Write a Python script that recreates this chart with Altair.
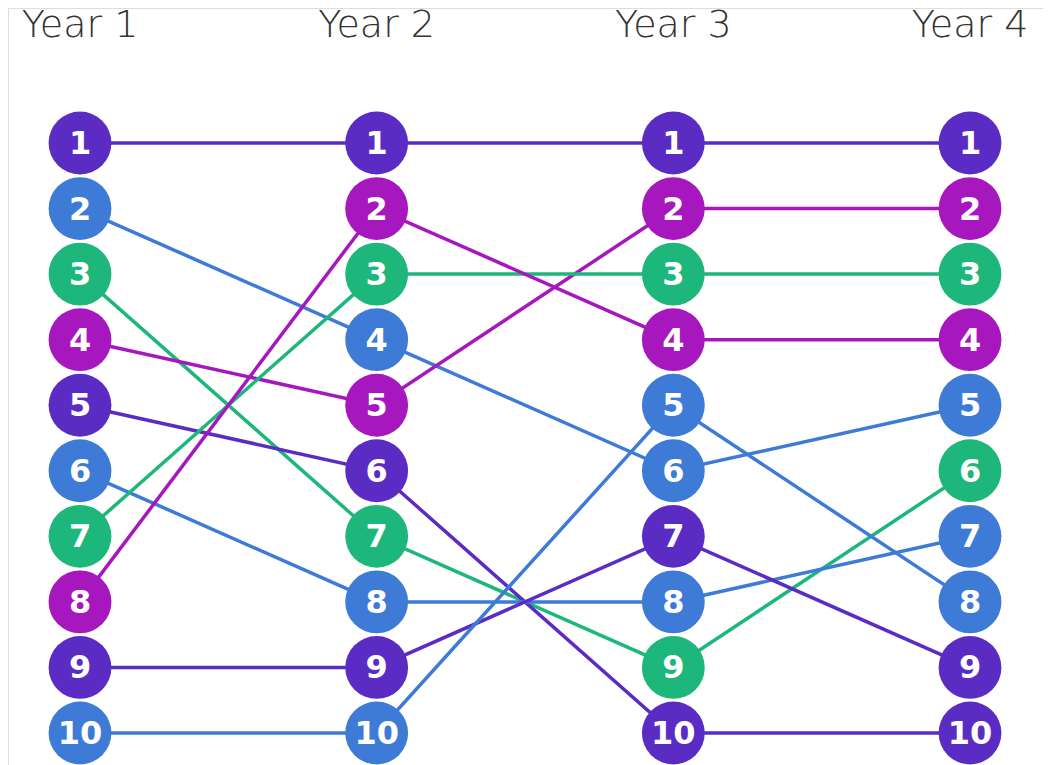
import altair as alt
import pandas as pd

years = [1, 2, 3, 4]
year_labels = ["Year 1", "Year 2", "Year 3", "Year 4"]
items = ["A", "B", "C", "D", "E", "F", "G", "H", "I", "J"]
groups = ["purple", "blue", "green", "magenta", "purple",
          "blue", "green", "magenta", "purple", "blue"]
rank_y1 = [1, 2, 3, 4, 5, 6, 7, 8, 9, 10]
rank_y2 = [1, 4, 7, 5, 6, 8, 3, 2, 9, 10]
rank_y3 = [1, 6, 9, 2, 10, 8, 3, 4, 7, 5]
rank_y4 = [1, 5, 6, 2, 10, 7, 3, 4, 9, 8]

group_names = ["purple", "blue", "green", "magenta"]
group_colors = ["#5b2cc3", "#3d7bd6", "#1db77b", "#a617be"]

rows = []
for i, item in enumerate(items):
    for y, ranks in zip(years, [rank_y1, rank_y2, rank_y3, rank_y4]):
        rows.append({"item": item, "year": y, "rank": ranks[i], "group": groups[i]})
df = pd.DataFrame(rows)
hdr = pd.DataFrame({"year": years, "label": year_labels})

W, H = 1035, 757
# pixel positions: year1 -> 72, year4 -> 962 ; rank1 -> 135, rank10 -> 725
px_per_year = 890 / 3
x0 = 1 - 72 / px_per_year
x1 = x0 + W / px_per_year
px_per_rank = 590 / 9
r0 = 1 - 135 / px_per_rank
r1 = r0 + H / px_per_rank
xscale = alt.Scale(domain=[x0, x1], nice=False, zero=False)
yscale = alt.Scale(domain=[r0, r1], nice=False, zero=False, reverse=True)
color = alt.Color("group:N", scale=alt.Scale(domain=group_names, range=group_colors), legend=None)

base = alt.Chart(df).encode(
    x=alt.X("year:Q", scale=xscale, axis=None),
    y=alt.Y("rank:Q", scale=yscale, axis=None),
)

lines = base.mark_line(strokeWidth=3.5).encode(color=color, detail="item:N")
dots = base.mark_circle(size=3950, opacity=1).encode(color=color)
nums = base.mark_text(font="DejaVu Sans", fontWeight="bold", fontSize=32,
                      color="white", baseline="middle", dy=1).encode(text="rank:Q")
heads = alt.Chart(hdr).mark_text(font="DejaVu Sans", fontWeight=300, fontSize=38,
                                 color="#333333", baseline="middle").encode(
    x=alt.X("year:Q", scale=xscale, axis=None),
    y=alt.value(18),
    text="label:N",
)

chart = alt.layer(lines, dots, nums, heads).properties(
    width=W, height=H, padding=0,
    autosize=alt.AutoSizeParams(type="none"),
).configure_view(stroke=None).configure(background="white")

chart.save("out.html", embed_options={"renderer": "svg", "actions": False})
